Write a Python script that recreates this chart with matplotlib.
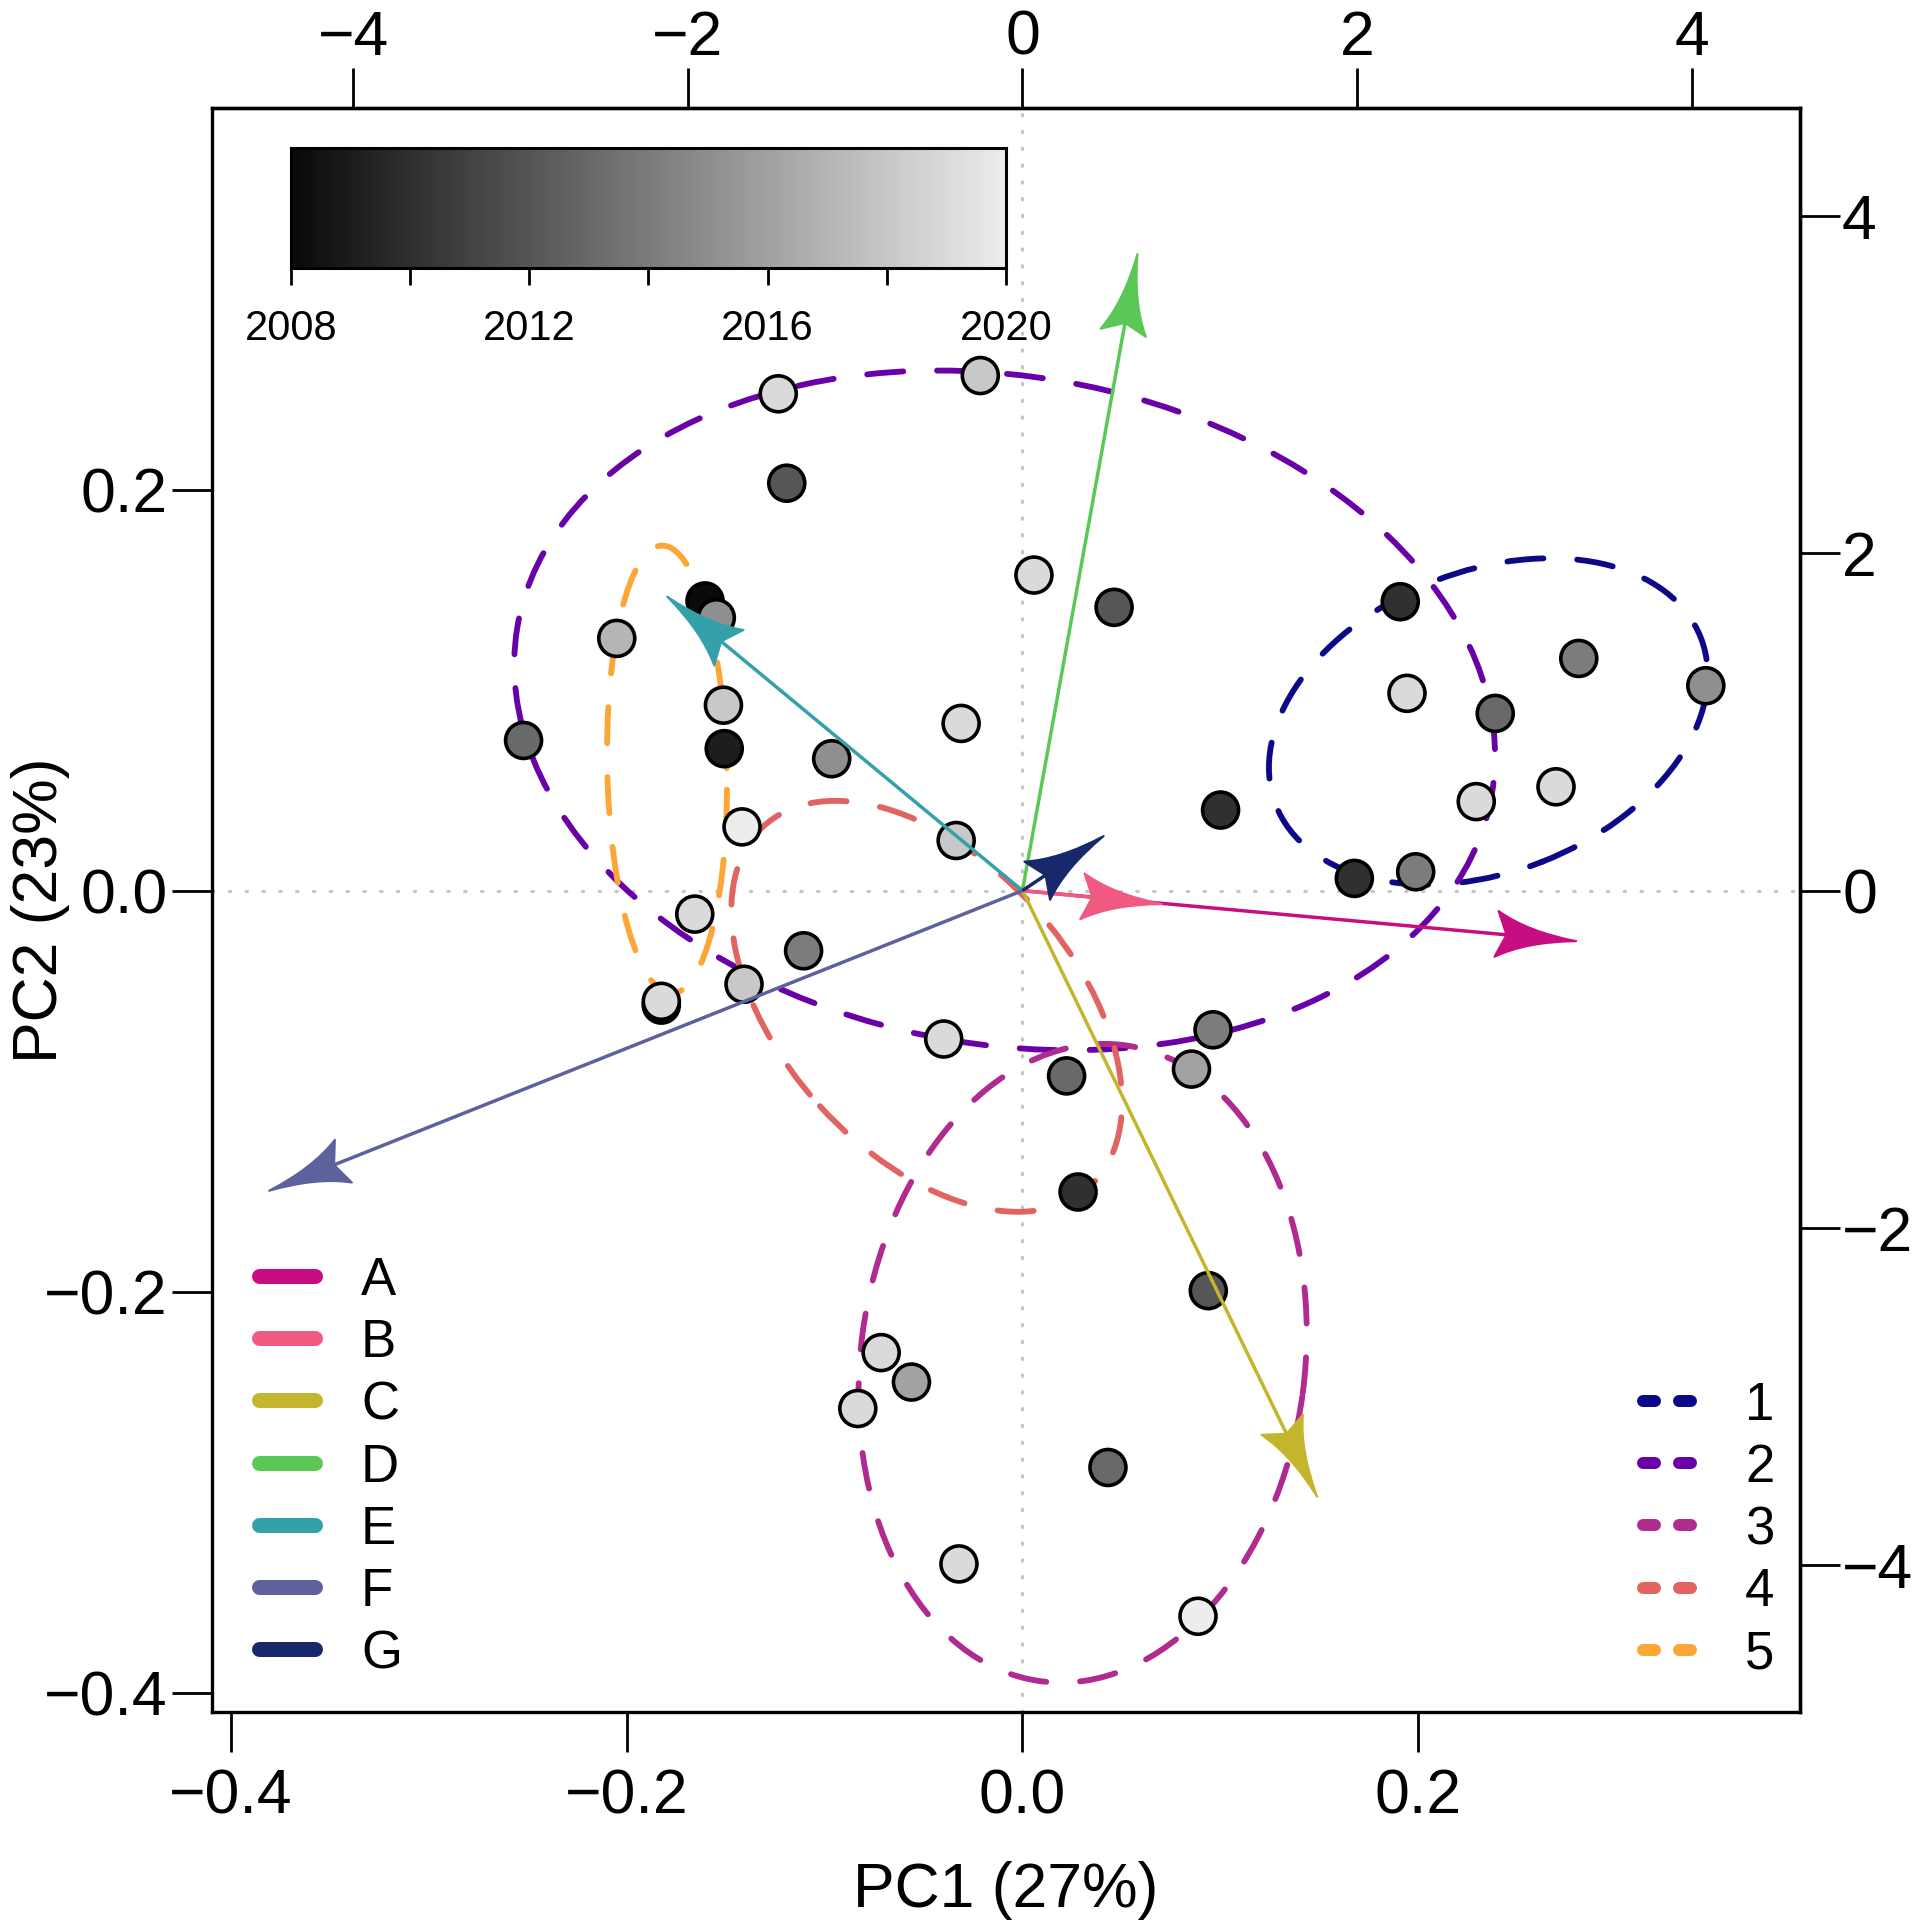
import numpy as np
import matplotlib
matplotlib.use('Agg')
from matplotlib import pyplot as plt
from matplotlib.patches import Ellipse, PathPatch
from matplotlib.path import Path
from matplotlib.colors import LinearSegmentedColormap
from matplotlib.ticker import FuncFormatter

plt.rcParams['font.family'] = ['Liberation Sans', 'DejaVu Sans']

# sample scores (PC1, PC2) and sampling year
pc1 = [-0.0213, -0.1234, -0.1191, 0.0058, 0.0463, -0.1604, -0.1547, -0.2050,
       -0.2521, -0.1511, -0.1507, -0.0964, -0.0310, -0.1417, -0.0335, -0.1656,
       -0.1106, -0.1825, -0.1825, -0.1407, -0.0398, 0.0223, 0.0963, 0.0854,
       0.0281, 0.0939, -0.0714, -0.0561, -0.0832, 0.0432, -0.0321, 0.0887,
       0.1909, 0.1943, 0.2389, 0.2811, 0.3453, 0.2696, 0.2293, 0.1001,
       0.1677, 0.1987]
pc2 = [0.2569, 0.2478, 0.2032, 0.1574, 0.1413, 0.1445, 0.1361, 0.1258,
       0.0749, 0.0925, 0.0708, 0.0658, 0.0834, 0.0318, 0.0250, -0.0117,
       -0.0300, -0.0571, -0.0552, -0.0467, -0.0740, -0.0924, -0.0694, -0.0890,
       -0.1503, -0.1995, -0.2304, -0.2451, -0.2583, -0.2877, -0.3358, -0.3619,
       0.1441, 0.0984, 0.0884, 0.1158, 0.1022, 0.0518, 0.0444, 0.0402,
       0.0061, 0.0094]
year = [2018, 2019, 2012, 2019, 2012, 2008, 2015, 2017,
        2013, 2018, 2009, 2015, 2019, 2020, 2018, 2019,
        2014, 2009, 2019, 2018, 2019, 2013, 2014, 2016,
        2010, 2012, 2019, 2016, 2019, 2013, 2019, 2020,
        2010, 2019, 2013, 2014, 2015, 2019, 2019, 2010,
        2010, 2014]

# variable loadings
var_names = ['A', 'B', 'C', 'D', 'E', 'F', 'G']
var_pc1 = [0.2798, 0.0705, 0.1489, 0.0581, -0.1795, -0.3807, 0.0410]
var_pc2 = [-0.0252, -0.0067, -0.3023, 0.3175, 0.1466, -0.1497, 0.0272]
var_colors = ['#C70D7F', '#F15A80', '#C3B52D', '#5BC757', '#33A0AA',
              '#5D619D', '#18296B']

# cluster ellipses
cluster_names = ['1', '2', '3', '4', '5']
ell_cx = [0.2354, -0.0090, 0.0304, -0.0484, -0.1796]
ell_cy = [0.0844, 0.0899, -0.2357, -0.0577, 0.0604]
ell_a = [0.1152, 0.2497, 0.1600, 0.1219, 0.1117]
ell_b = [0.0751, 0.1667, 0.1122, 0.0734, 0.0302]
ell_angle = [21.0, -9.5, 82.3, -47.3, 91.3]
cluster_colors = ['#0D0887', '#6A00A8', '#B12A90', '#E16462', '#FCA636']

year_min, year_max = 2008, 2020
cmap = LinearSegmentedColormap.from_list('yr', [(0.04, 0.04, 0.04), (0.93, 0.93, 0.93)])


def fmt(v, pos):
    return ('%.1f' % v).replace('-', '\u2212')


def arrow_head(ax, x1, y1, color):
    p0 = ax.transData.transform((0, 0))
    p1 = ax.transData.transform((x1, y1))
    d = p1 - p0
    u = d / np.hypot(d[0], d[1])
    n = np.array([-u[1], u[0]])
    L, W, N = 80, 23, 70

    def pt(a, b):
        return p1 - u * a + n * b

    verts = [pt(0, 0), pt(0.62 * L, 0.22 * W), pt(L, W), pt(N, 0),
             pt(L, -W), pt(0.62 * L, -0.22 * W), pt(0, 0), pt(0, 0)]
    codes = [Path.MOVETO, Path.CURVE3, Path.CURVE3, Path.LINETO,
             Path.LINETO, Path.CURVE3, Path.CURVE3, Path.CLOSEPOLY]
    inv = ax.transData.inverted()
    vd = inv.transform(np.array(verts))
    ax.add_patch(PathPatch(Path(vd, codes), fc=color, ec=color, lw=1.5,
                           joinstyle='round', zorder=4))
    shaft_end = inv.transform(pt(N - 2, 0))
    ax.plot([0, shaft_end[0]], [0, shaft_end[1]], color=color, lw=2.5,
            solid_capstyle='butt', zorder=3.9)


fig = plt.figure(figsize=(19.19, 19.30), dpi=100)
ax = fig.add_axes([0.1103, 0.1128, 0.8277, 0.8311])
ax.set_xlim(-0.4097, 0.3929)
ax.set_ylim(-0.4098, 0.3902)

for s in ax.spines.values():
    s.set_linewidth(2.4)

ax.axhline(0, color='#C4C4C4', lw=2.2, linestyle=(0, (0.5, 5)),
           dash_capstyle='round', zorder=0.5)
ax.axvline(0, color='#C4C4C4', lw=2.2, linestyle=(0, (0.5, 5)),
           dash_capstyle='round', zorder=0.5)

for i in range(len(cluster_names)):
    e = Ellipse((ell_cx[i], ell_cy[i]), 2 * ell_a[i], 2 * ell_b[i],
                angle=ell_angle[i], fill=False, ec=cluster_colors[i], lw=4.2,
                linestyle=(0, (6.2, 5.8)), zorder=1)
    e.set_capstyle('round')
    ax.add_patch(e)

ax.scatter(pc1, pc2, c=year, cmap=cmap, vmin=year_min, vmax=year_max,
           s=671, edgecolors='black', linewidths=2.6, zorder=2)

for i in range(len(var_names)):
    arrow_head(ax, var_pc1[i], var_pc2[i], var_colors[i])

ax.set_xticks([-0.4, -0.2, 0.0, 0.2])
ax.set_yticks([-0.4, -0.2, 0.0, 0.2])
ax.xaxis.set_major_formatter(FuncFormatter(fmt))
ax.yaxis.set_major_formatter(FuncFormatter(fmt))
ax.tick_params(axis='x', direction='out', length=28.8, width=2, labelsize=45, pad=11)
ax.tick_params(axis='y', direction='out', length=28.8, width=2, labelsize=45, pad=3)

kx, ky = 11.83, 11.89
top = ax.secondary_xaxis('top', functions=(lambda v: v * kx, lambda v: v / kx))
top.set_xticks([-4, -2, 0, 2, 4])
top.tick_params(direction='out', length=28.8, width=2, labelsize=45, pad=0.5)
right = ax.secondary_yaxis('right', functions=(lambda v: v * ky, lambda v: v / ky))
right.set_yticks([-4, -2, 0, 2, 4])
right.tick_params(direction='out', length=28.8, width=2, labelsize=45, pad=1.5)
for sec in (top, right):
    for s in sec.spines.values():
        s.set_linewidth(2.4)

ax.set_xlabel('PC1 (27%)', fontsize=45)
ax.xaxis.set_label_coords(0.5, -0.111)
ax.xaxis.label.set_va('center')
ax.set_ylabel('PC2 (23%)', fontsize=45)
ax.yaxis.set_label_coords(-0.108, 0.5)
ax.yaxis.label.set_va('center')

# year colour bar
cax = ax.inset_axes([0.0499, 0.9004, 0.4502, 0.0749])
cax.imshow(np.linspace(year_min, year_max, 300)[None, :], aspect='auto',
           cmap=cmap, vmin=year_min, vmax=year_max,
           extent=(year_min, year_max, 0, 1))
cax.set_xlim(year_min, year_max)
cax.set_ylim(0, 1)
cax.set_yticks([])
cax.set_xticks(list(range(year_min, year_max + 1, 2)))
cax.set_xticklabels(['2008', '', '2012', '', '2016', '', '2020'])
cax.tick_params(axis='x', direction='out', length=12.2, width=2, labelsize=30, pad=17)
for s in cax.spines.values():
    s.set_linewidth(2.2)

# variable legend (left)
y0, step = 0.2720, 0.03878
for i, name in enumerate(var_names):
    yy = y0 - i * step
    ax.plot([0.0299, 0.0652], [yy, yy], transform=ax.transAxes,
            color=var_colors[i], lw=10.8, solid_capstyle='round', zorder=5)
    ax.text(0.094, yy - 0.0118, name, transform=ax.transAxes, fontsize=38,
            va='baseline', ha='left', zorder=5)

# cluster legend (right)
y1 = 0.1941
for i, name in enumerate(cluster_names):
    yy = y1 - i * step
    ax.plot([0.9011, 0.9313], [yy, yy], transform=ax.transAxes,
            color=cluster_colors[i], lw=8.64, linestyle=(0, (1, 2)),
            dash_capstyle='round', zorder=5)
    ax.text(0.9654, yy - 0.0118, name, transform=ax.transAxes, fontsize=38,
            va='baseline', ha='left', zorder=5)

fig.savefig('out.png', dpi=100)
